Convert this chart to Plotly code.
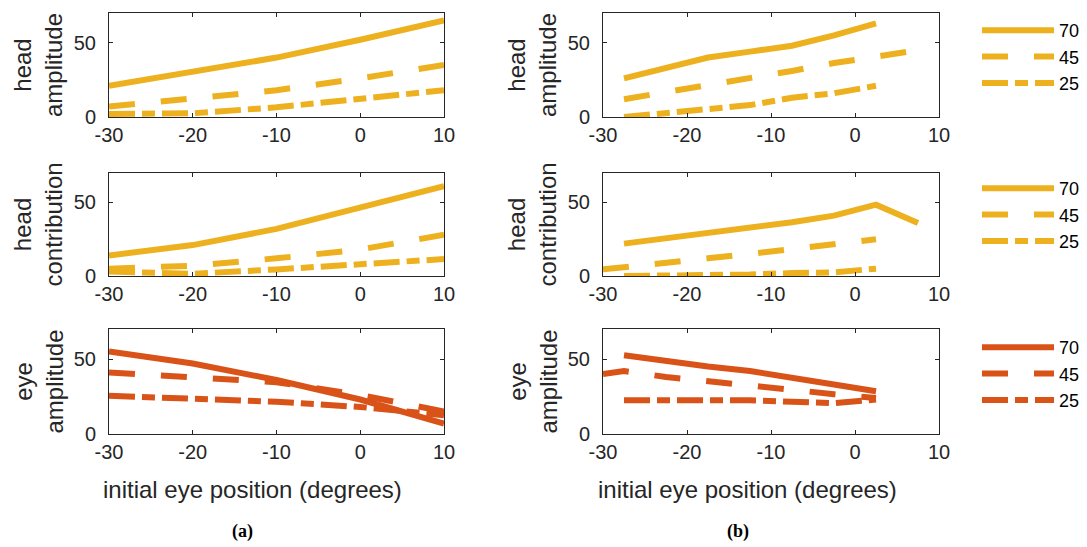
import plotly.graph_objects as go
from plotly.subplots import make_subplots

# ---------------- data ----------------
levels = ["70", "45", "25"]
x_ticks = [-30, -20, -10, 0, 10]
x_tick_text = ["-30", "-20", "-10", "0", "10"]
y_ticks = [0, 50]
y_tick_text = ["0", "50"]

# (a) panels
a_x = [-30, -20, -10, 0, 10]
a_head_amp_70 = [21, 30, 40, 52, 65]
a_head_amp_45 = [7, 12, 18, 26, 35]
a_head_amp_25 = [2, 2.5, 6.5, 12, 18]
a_head_con_70 = [14, 21, 32, 46, 61]
a_head_con_45 = [5, 7, 12, 18, 28]
a_head_con_25 = [3, 1.5, 4.5, 7.5, 11.5]
a_eye_amp_70 = [55, 47, 36, 23, 7]
a_eye_amp_45 = [41, 37.5, 34.5, 26, 15]
a_eye_amp_25 = [25.5, 23.5, 21.5, 18, 12.5]

# (b) panels
b_x = [-27.5, -22.5, -17.5, -12.5, -7.5, -2.5, 2.5]
b_x_long = [-27.5, -22.5, -17.5, -12.5, -7.5, -2.5, 2.5, 7.5]
b_x_start30 = [-30, -22.5, -17.5, -12.5, -7.5, -2.5, 2.5]
b_x_eye45 = [-30, -27.5, -22.5, -17.5, -12.5, -7.5, -2.5, 2.5]
b_x_head45 = [-27.5, -22.5, -17.5, -12.5, -7.5, -2.5, 2.5, 7]

b_head_amp_70 = [26, 33, 40, 44, 48, 55, 63]
b_head_amp_45 = [12, 16.7, 21, 26, 31, 36.3, 40.8, 44.5]
b_head_amp_25 = [0, 3, 5, 8, 13, 16, 21]
b_head_con_70 = [22, 25.5, 30, 33, 36.5, 41, 48.5, 36]
b_head_con_45 = [4.5, 8.5, 12, 15, 18, 21, 25]
b_head_con_25 = [0, 0, 0.5, 1, 2, 2.5, 5]
b_eye_amp_70 = [52.5, 48.5, 45, 42, 38, 33, 28.5]
b_eye_amp_45 = [40, 42, 38, 35.5, 32.5, 29.5, 26.5, 24]
b_eye_amp_25 = [22.5, 22.5, 23, 22.5, 21.5, 20.5, 23]

row_titles = ["head<br>amplitude", "head<br>contribution", "eye<br>amplitude"]
x_title = "initial eye position (degrees)"
panel_labels = ["(a)", "(b)"]

# ---------------- style ----------------
YELLOW = "#EDB120"
ORANGE = "#D95319"
AXC = "#262626"
FONT = "Liberation Sans, Arial, Helvetica, sans-serif"
LW = 6
dashes = {"70": "solid", "45": "26px,26px", "25": "26px,7px,13px,7px"}

# the page places the figure 8px in from the top-left corner
OFF = 8
W, H = 1087 - OFF, 547 - OFF


def px(p):
    return (p - OFF) / W


def py(p):
    return 1 - (p - OFF) / H


col_px = [(109, 444), (603, 939)]
row_px = [(13, 117), (173, 276), (329, 434)]

fig = make_subplots(rows=3, cols=2)

panels = [
    (1, 1, YELLOW, [(a_x, a_head_amp_70), (a_x, a_head_amp_45), (a_x, a_head_amp_25)]),
    (1, 2, YELLOW, [(b_x, b_head_amp_70), (b_x_head45, b_head_amp_45), (b_x, b_head_amp_25)]),
    (2, 1, YELLOW, [(a_x, a_head_con_70), (a_x, a_head_con_45), (a_x, a_head_con_25)]),
    (2, 2, YELLOW, [(b_x_long, b_head_con_70), (b_x_start30, b_head_con_45), (b_x, b_head_con_25)]),
    (3, 1, ORANGE, [(a_x, a_eye_amp_70), (a_x, a_eye_amp_45), (a_x, a_eye_amp_25)]),
    (3, 2, ORANGE, [(b_x, b_eye_amp_70), (b_x_eye45, b_eye_amp_45), (b_x, b_eye_amp_25)]),
]

legend_names = ["legend", "legend2", "legend3"]
for r, c, color, series in panels:
    for lev, (xs, ys) in zip(levels, series):
        fig.add_trace(
            go.Scatter(
                x=xs, y=ys, mode="lines", name=lev,
                line=dict(color=color, width=LW, dash=dashes[lev]),
                showlegend=(c == 2),
                legend=legend_names[r - 1],
                hoverinfo="skip",
            ),
            row=r, col=c,
        )

for r in range(1, 4):
    for c in range(1, 3):
        x0, x1 = col_px[c - 1]
        t, b = row_px[r - 1]
        fig.update_xaxes(
            row=r, col=c,
            domain=[px(x0), px(x1)], range=[-30, 10], automargin=False,
            tickvals=x_ticks, ticktext=x_tick_text,
            showline=True, linecolor=AXC, linewidth=1, mirror="ticks",
            ticks="inside", ticklen=4, tickcolor=AXC, tickwidth=1,
            showgrid=False, zeroline=False,
            tickfont=dict(family=FONT, size=20, color=AXC),
        )
        fig.update_yaxes(
            row=r, col=c,
            domain=[py(b), py(t)], range=[0, 70], automargin=False,
            tickvals=y_ticks, ticktext=y_tick_text,
            showline=True, linecolor=AXC, linewidth=1, mirror="ticks",
            ticks="inside", ticklen=4, tickcolor=AXC, tickwidth=1,
            showgrid=False, zeroline=False,
            tickfont=dict(family=FONT, size=20, color=AXC),
            ticklabelstandoff=8,
        )

annotations = []
for r in range(3):
    t, b = row_px[r]
    for c in range(2):
        x0, x1 = col_px[c]
        annotations.append(dict(
            text=row_titles[r], x=px(x0 - 71), y=py((t + b) / 2),
            xref="paper", yref="paper", showarrow=False, textangle=-90,
            xanchor="center", yanchor="middle",
            font=dict(family=FONT, size=24, color=AXC),
        ))
for c in range(2):
    x0, x1 = col_px[c]
    annotations.append(dict(
        text=x_title, x=px((x0 + x1) / 2 - 24), y=py(489),
        xref="paper", yref="paper", showarrow=False,
        xanchor="center", yanchor="middle",
        font=dict(family=FONT, size=24, color=AXC),
    ))
label_cx = [242, 738]
for c in range(2):
    annotations.append(dict(
        text="<b>" + panel_labels[c] + "</b>", x=px(label_cx[c]), y=py(531),
        xref="paper", yref="paper", showarrow=False,
        xanchor="center", yanchor="middle",
        font=dict(family="Liberation Serif, Times New Roman, serif", size=18, color="#000000"),
    ))

legend_tops = [12, 170, 329]
legend_left = 977
legend_common = dict(
    xanchor="left", yanchor="top", bgcolor="rgba(0,0,0,0)", borderwidth=0,
    font=dict(family=FONT, size=18, color="#000000"), itemwidth=72,
    tracegroupgap=0,
)
fig.update_layout(
    width=W, height=H,
    margin=dict(l=0, r=0, t=0, b=0, autoexpand=False),
    paper_bgcolor="white", plot_bgcolor="white",
    annotations=annotations,
    legend=dict(x=px(legend_left), y=py(legend_tops[0]), **legend_common),
    legend2=dict(x=px(legend_left), y=py(legend_tops[1]), **legend_common),
    legend3=dict(x=px(legend_left), y=py(legend_tops[2]), **legend_common),
)

fig.write_html("out.html")
